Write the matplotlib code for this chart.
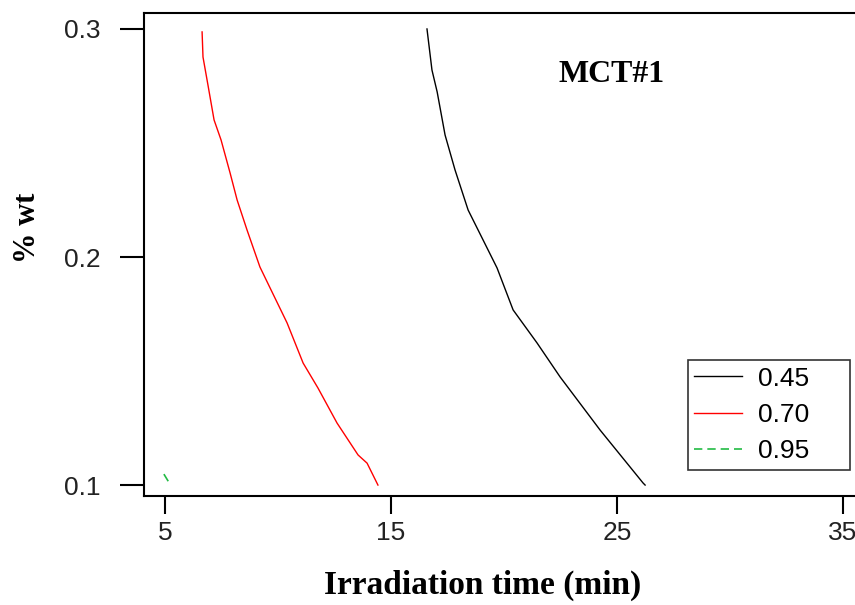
import matplotlib.pyplot as plt

# contour levels
wt_black = [0.30, 0.282, 0.2724, 0.2535, 0.2382, 0.2206, 0.1952, 0.1768, 0.1623,
            0.1474, 0.1241, 0.1009, 0.10]
t_black = [16.59, 16.81, 17.04, 17.39, 17.83, 18.41, 19.69, 20.40, 21.46,
           22.48, 24.25, 26.15, 26.24]

wt_red = [0.2987, 0.2877, 0.2754, 0.2601, 0.2513, 0.2368, 0.2250, 0.2118, 0.1956,
          0.1864, 0.1711, 0.1535, 0.1425, 0.1272, 0.1132, 0.1096, 0.10]
t_red = [6.64, 6.68, 6.90, 7.17, 7.48, 7.88, 8.19, 8.63, 9.20,
         9.65, 10.40, 11.11, 11.77, 12.61, 13.54, 13.94, 14.42]

wt_green = [0.1048, 0.1004]
t_green = [4.95, 5.22]

levels = ["0.45", "0.70", "0.95"]
xticks = [5, 15, 25, 35]
yticks = [0.1, 0.2, 0.3]

fig = plt.figure(figsize=(8.55, 6.05), dpi=100)
# plot frame runs past the right edge of the picture (right spine not visible)
ax = fig.add_axes([144/855, 1-496/605, 726/855, 483/605])

ax.plot(t_black, wt_black, color="black", lw=1.0, label=levels[0])
ax.plot(t_red, wt_red, color="red", lw=1.0, label=levels[1])
ax.plot(t_green, wt_green, color="#22bb44", lw=1.2, ls=(0, (5, 3)), label=levels[2])

ax.set_xlim(4.07, 36.19)
ax.set_ylim(0.0952, 0.307)
ax.set_xticks(xticks)
ax.set_yticks(yticks)
ax.set_xticklabels([str(v) for v in xticks], family="Liberation Sans", fontsize=19,
                   color="#222222")
ax.set_yticklabels(["0.1", "0.2", "0.3"], family="Liberation Sans", fontsize=19,
                   color="#222222")
ax.tick_params(axis="x", length=13, width=1.5, pad=5)
ax.tick_params(axis="y", length=17, width=1.5, pad=14)
for s in ax.spines.values():
    s.set_linewidth(1.5)

ax.set_xlabel("Irradiation time (min)", family="Liberation Serif", fontweight="bold",
              fontsize=24)
ax.xaxis.set_label_coords(0.467, -0.152)
ax.set_ylabel("% wt", family="Liberation Serif", fontweight="bold", fontsize=22)
ax.yaxis.set_label_coords(-0.140, 0.555)

ax.text(0.6446, 0.872, "MCT#1", transform=ax.transAxes, family="Liberation Serif",
        fontweight="bold", fontsize=23, ha="center", va="center")

leg = ax.legend(loc="lower left", bbox_to_anchor=(0.749, 0.054, 0.223, 0.2), mode="expand",
                fancybox=False, prop={"family": "Liberation Sans", "size": 19},
                handlelength=1.8, borderpad=0.25, labelspacing=0.47, handletextpad=0.6,
                borderaxespad=0)
leg.get_frame().set_edgecolor("black")
leg.get_frame().set_linewidth(1.2)

fig.savefig("out.png", dpi=100)
